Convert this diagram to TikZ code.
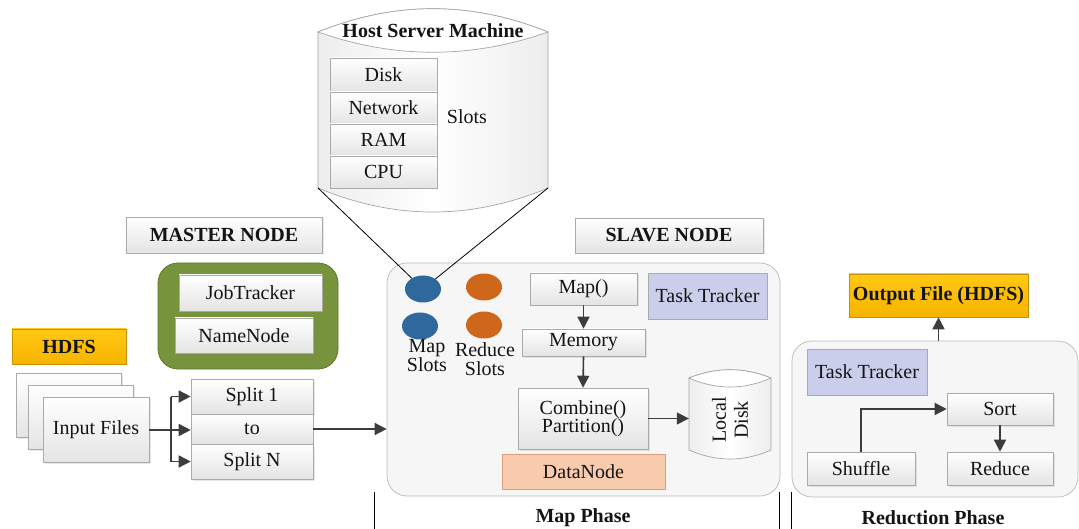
\documentclass[tikz,border=0pt]{standalone}
\usepackage{fontspec}
\setmainfont{Liberation Serif}
\usetikzlibrary{arrows.meta,shapes.geometric,shadows}

\definecolor{boxline}{RGB}{170,170,170}
\definecolor{boxlow}{RGB}{228,228,228}
\definecolor{panel}{RGB}{246,246,246}
\definecolor{panelline}{RGB}{185,185,185}
\definecolor{gold}{RGB}{246,180,0}
\definecolor{goldtop}{RGB}{255,200,20}
\definecolor{goldline}{RGB}{200,145,0}
\definecolor{olive}{RGB}{119,147,60}
\definecolor{oliveline}{RGB}{96,120,46}
\definecolor{lavender}{RGB}{202,206,234}
\definecolor{peach}{RGB}{248,203,173}
\definecolor{peachline}{RGB}{215,160,120}
\definecolor{slotblue}{RGB}{47,104,156}
\definecolor{slotorange}{RGB}{206,102,28}
\definecolor{ink}{RGB}{20,20,20}
\definecolor{arrowc}{RGB}{60,60,60}

\tikzset{
  txt/.style={font=\fontsize{20}{20}\selectfont, text=ink, align=center},
  bold/.style={txt, font=\fontsize{20}{20}\selectfont\bfseries},
  box/.style={txt, draw=boxline, line width=0.6pt, top color=white, bottom color=boxlow,
    inner sep=0pt, drop shadow={shadow xshift=1.5pt, shadow yshift=-1.5pt, opacity=0.18}},
  flatbox/.style={txt, draw=boxline, line width=0.6pt, top color=white, bottom color=boxlow, inner sep=0pt},
  goldbox/.style={bold, draw=goldline, line width=0.6pt, top color=goldtop, bottom color=gold, inner sep=0pt},
  lavbox/.style={txt, draw=boxline, line width=0.6pt, fill=lavender, inner sep=0pt},
  peachbox/.style={txt, draw=peachline, line width=0.6pt, fill=peach, inner sep=0pt},
  panelbox/.style={draw=panelline, line width=0.7pt, fill=panel, rounded corners=20pt, inner sep=0pt},
  slot/.style={ellipse, inner sep=0pt, minimum width=36pt, minimum height=27pt},
  arr/.style={draw=arrowc, line width=1.6pt, -{Triangle[length=12pt,width=12pt]}},
  link/.style={draw=arrowc, line width=1.6pt},
  thin/.style={draw=black, line width=0.8pt},
  drum/.style={left color=gray!14, right color=gray!14, middle color=white, draw=gray!70, line width=0.7pt},
  drumline/.style={draw=gray!70, line width=0.7pt},
}

\begin{document}
\begin{tikzpicture}[x=1pt,y=-1pt]
\useasboundingbox (0,0) rectangle (1079,529);
\fill[white] (0,0) rectangle (1079,529);

% ---------- host server machine (drum) ----------
\coordinate (hostTL) at (318,32);
\coordinate (hostTR) at (548,32);
\coordinate (hostBL) at (318,188);
\coordinate (hostBR) at (548,188);
\path[drum] (hostTL) -- (hostBL) .. controls (395,220) and (471,220) .. (hostBR)
  -- (hostTR) .. controls (471,1) and (395,1) .. (hostTL) -- cycle;
\path[drumline, fill=white] (hostTL) .. controls (395,1) and (471,1) .. (hostTR)
  .. controls (471,59) and (395,59) .. (hostTL) -- cycle;
\node[bold] (host) at (433,31) {Host Server Machine};
\node[flatbox, minimum width=107pt, minimum height=34pt] (disk) at (383.5,75) {Disk};
\node[flatbox, minimum width=107pt, minimum height=32pt] (net) at (383.5,108) {Network};
\node[flatbox, minimum width=107pt, minimum height=32pt] (ram) at (383.5,140) {RAM};
\node[flatbox, minimum width=107pt, minimum height=32pt] (cpu) at (383.5,172) {CPU};
\node[txt] (slots) at (467,117) {Slots};

% ---------- master side ----------
\node[box, minimum width=196pt, minimum height=36pt] (master) at (224,235) {\bfseries MASTER NODE};
\node[draw=oliveline, line width=0.8pt, fill=olive, rounded corners=20pt,
      minimum width=180pt, minimum height=106pt] (masterpanel) at (248,316) {};
\node[box, minimum width=143pt, minimum height=36pt] (jobtracker) at (250.5,293) {JobTracker};
\node[box, minimum width=138pt, minimum height=35pt] (namenode) at (244,335.5) {NameNode};

\node[goldbox, minimum width=114pt, minimum height=35pt] (hdfs) at (69,346.5) {HDFS};
\node[box, minimum width=105pt, minimum height=64pt] (file3) at (68.5,405) {};
\node[box, minimum width=105pt, minimum height=64pt] (file2) at (80.5,417) {};
\node[box, minimum width=106pt, minimum height=65pt] (files) at (96,430) {Input Files};

\node[box, minimum width=122pt, minimum height=35pt] (split1) at (252,396.5) {Split 1};
\node[flatbox, minimum width=122pt, minimum height=30pt] (to) at (252,429) {to};
\node[box, minimum width=122pt, minimum height=35pt] (splitn) at (252,461.5) {Split N};

% ---------- slave node / map phase ----------
\node[box, minimum width=188pt, minimum height=35pt] (slave) at (669,235.5) {\bfseries SLAVE NODE};
\node[panelbox, minimum width=393pt, minimum height=233pt] (mapphase) at (583.5,379.5) {};

\draw[thin] (hostBL) -- (423,289);
\draw[thin] (hostBR) -- (423,289);
\node[slot, fill=slotblue] (mapslot1) at (423,289) {};
\node[slot, fill=slotblue] (mapslot2) at (420,326) {};
\node[slot, fill=slotorange] (redslot1) at (484,287) {};
\node[slot, fill=slotorange] (redslot2) at (484,325) {};
\node[txt, font=\fontsize{20}{19}\selectfont] (maplbl) at (427,356) {Map\\Slots};
\node[txt, font=\fontsize{20}{19}\selectfont] (redlbl) at (485,359) {Reduce\\Slots};

\node[box, minimum width=107pt, minimum height=32pt] (map) at (583.5,289) {Map()};
\node[lavbox, minimum width=119pt, minimum height=46pt] (tt1) at (707.5,296) {Task Tracker};
\node[box, minimum width=123pt, minimum height=27pt] (memory) at (583.5,342.5) {Memory};
\node[box, minimum width=130pt, minimum height=61pt, font=\fontsize{20}{18.5}\selectfont] (combine) at (583,418.5) {Combine()\\Partition()};
\node[peachbox, minimum width=163pt, minimum height=35pt] (datanode) at (583.5,471.5) {DataNode};

% local disk drum
\node[minimum width=82pt, minimum height=83pt, inner sep=0pt] (ldisk) at (730,416.5) {};
\path[drum] (689,378) -- (689,450) .. controls (716,462) and (744,462) .. (771,450)
  -- (771,378) .. controls (744,367) and (716,367) .. (689,378) -- cycle;
\path[drumline, fill=white] (689,378) .. controls (716,367) and (744,367) .. (771,378)
  .. controls (744,390) and (716,390) .. (689,378) -- cycle;
\node[txt, rotate=90, font=\fontsize{20}{22}\selectfont] (ldisklbl) at (730,420) {Local\\Disk};

\node[bold] (mapphaselbl) at (583,518) {Map Phase};

% ---------- reduction phase ----------
\node[goldbox, minimum width=179pt, minimum height=43pt] (output) at (938.5,295.5) {Output File (HDFS)};
\node[panelbox, minimum width=286pt, minimum height=156pt] (redphase) at (935,419) {};
\node[lavbox, minimum width=120pt, minimum height=46pt] (tt2) at (867,372) {Task Tracker};
\node[box, minimum width=106pt, minimum height=32pt] (sort) at (1000,409) {Sort};
\node[box, minimum width=108pt, minimum height=33pt] (shuffle) at (861,468.5) {Shuffle};
\node[box, minimum width=106pt, minimum height=33pt] (reduce) at (1000,468.5) {Reduce};
\node[bold] (redphaselbl) at (933,518) {Reduction Phase};

% ---------- connectors ----------
\coordinate (fork) at (171,430);
\draw[arr] (files.east) -- (files.east -| to.west);
\draw[link] (fork |- split1.west) -- (fork |- splitn.west);
\draw[arr] (fork |- split1.west) -- (split1.west);
\draw[arr] (fork |- splitn.west) -- (splitn.west);
\draw[arr] (to.east) -- (to.east -| mapphase.west);
\draw[arr] (map.south) -- (memory.north);
\draw[arr] (memory.south) -- (combine.north);
\draw[arr] (combine.east) -- (combine.east -| ldisk.west);
\draw[arr] (output.south |- redphase.north) -- (output.south);
\draw[arr] (shuffle.north) |- (sort.west);
\draw[arr] (sort.south) -- (reduce.north);

% phase separators
\coordinate (sepA) at (374,492);
\coordinate (sepB) at (779,492);
\coordinate (sepC) at (791,492);
\draw[thin] (sepA) -- (sepA |- 0,529);
\draw[thin] (sepB) -- (sepB |- 0,529);
\draw[thin] (sepC) -- (sepC |- 0,529);
\end{tikzpicture}
\end{document}
